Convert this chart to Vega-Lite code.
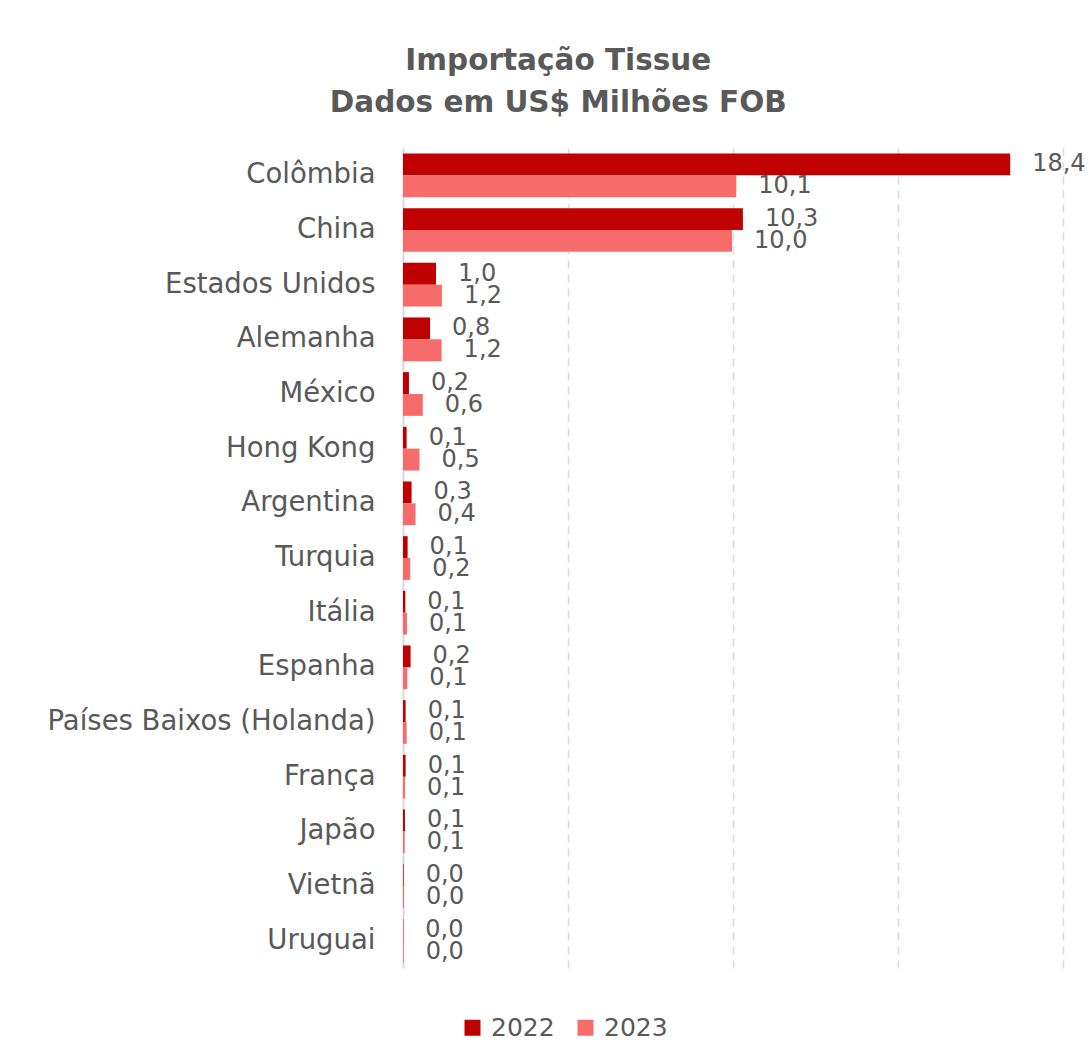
{
  "$schema": "https://vega.github.io/schema/vega-lite/v6.json",
  "width": 660,
  "height": 820,
  "padding": {"left": 46, "top": 45, "right": 5, "bottom": 5},
  "background": "white",
  "config": {
    "locale": {"number": {"decimal": ",", "thousands": ".", "grouping": [3], "currency": ["R$", ""]}},
    "view": {"stroke": null},
    "font": "DejaVu Sans"
  },
  "title": {
    "text": ["Importação Tissue", "Dados em US$ Milhões FOB"],
    "font": "DejaVu Sans",
    "fontSize": 29.5,
    "fontWeight": "bold",
    "color": "#595959",
    "lineHeight": 42,
    "anchor": "middle",
    "frame": "bounds",
    "dx": -8,
    "offset": 30
  },
  "data": {
    "values": [
      {"pais": "Colômbia", "ano": "2022", "valor": 18.4},
      {"pais": "Colômbia", "ano": "2023", "valor": 10.1},
      {"pais": "China", "ano": "2022", "valor": 10.3},
      {"pais": "China", "ano": "2023", "valor": 9.97},
      {"pais": "Estados Unidos", "ano": "2022", "valor": 1.0},
      {"pais": "Estados Unidos", "ano": "2023", "valor": 1.18},
      {"pais": "Alemanha", "ano": "2022", "valor": 0.82},
      {"pais": "Alemanha", "ano": "2023", "valor": 1.17},
      {"pais": "México", "ano": "2022", "valor": 0.18},
      {"pais": "México", "ano": "2023", "valor": 0.6},
      {"pais": "Hong Kong", "ano": "2022", "valor": 0.11},
      {"pais": "Hong Kong", "ano": "2023", "valor": 0.5},
      {"pais": "Argentina", "ano": "2022", "valor": 0.26},
      {"pais": "Argentina", "ano": "2023", "valor": 0.38},
      {"pais": "Turquia", "ano": "2022", "valor": 0.14},
      {"pais": "Turquia", "ano": "2023", "valor": 0.22},
      {"pais": "Itália", "ano": "2022", "valor": 0.07},
      {"pais": "Itália", "ano": "2023", "valor": 0.12},
      {"pais": "Espanha", "ano": "2022", "valor": 0.23},
      {"pais": "Espanha", "ano": "2023", "valor": 0.13},
      {"pais": "Países Baixos (Holanda)", "ano": "2022", "valor": 0.08},
      {"pais": "Países Baixos (Holanda)", "ano": "2023", "valor": 0.11},
      {"pais": "França", "ano": "2022", "valor": 0.08},
      {"pais": "França", "ano": "2023", "valor": 0.06},
      {"pais": "Japão", "ano": "2022", "valor": 0.06},
      {"pais": "Japão", "ano": "2023", "valor": 0.05},
      {"pais": "Vietnã", "ano": "2022", "valor": 0.02},
      {"pais": "Vietnã", "ano": "2023", "valor": 0.03},
      {"pais": "Uruguai", "ano": "2022", "valor": 0.01},
      {"pais": "Uruguai", "ano": "2023", "valor": 0.02}
    ]
  },
  "encoding": {
    "y": {
      "field": "pais",
      "type": "nominal",
      "sort": null,
      "scale": {"paddingInner": 0.2, "paddingOuter": 0.1},
      "axis": {
        "title": null,
        "ticks": false,
        "labelFont": "DejaVu Sans",
        "labelFontSize": 27.5,
        "labelColor": "#595959",
        "labelPadding": 28,
        "domainColor": "#d9d9d9",
        "domainWidth": 2,
        "labelLimit": 400
      }
    },
    "yOffset": {"field": "ano", "type": "nominal"},
    "x": {
      "field": "valor",
      "type": "quantitative",
      "scale": {"domain": [0, 20], "nice": false},
      "axis": {
        "title": null,
        "labels": false,
        "ticks": false,
        "domain": false,
        "values": [5, 10, 15, 20],
        "grid": true,
        "gridColor": "#d9d9d9",
        "gridDash": [8, 6],
        "gridWidth": 1.5
      }
    }
  },
  "layer": [
    {
      "mark": {"type": "bar", "cornerRadius": 0},
      "encoding": {
        "color": {
          "field": "ano",
          "type": "nominal",
          "scale": {"domain": ["2022", "2023"], "range": ["#C00000", "#F86B6B"]},
          "legend": {
            "title": null,
            "orient": "none",
            "direction": "horizontal",
            "legendX": 57,
            "legendY": 867,
            "symbolType": "square",
            "symbolSize": 256,
            "symbolStrokeWidth": 0,
            "labelFont": "DejaVu Sans",
            "labelFontSize": 25,
            "labelColor": "#595959",
            "columnPadding": 18,
            "labelOffset": 6
          }
        }
      }
    },
    {
      "mark": {"type": "text", "align": "left", "baseline": "middle", "dx": 22, "fontSize": 24, "font": "DejaVu Sans", "color": "#595959"},
      "encoding": {
        "text": {"field": "valor", "type": "quantitative", "format": ".1f"}
      }
    }
  ]
}
